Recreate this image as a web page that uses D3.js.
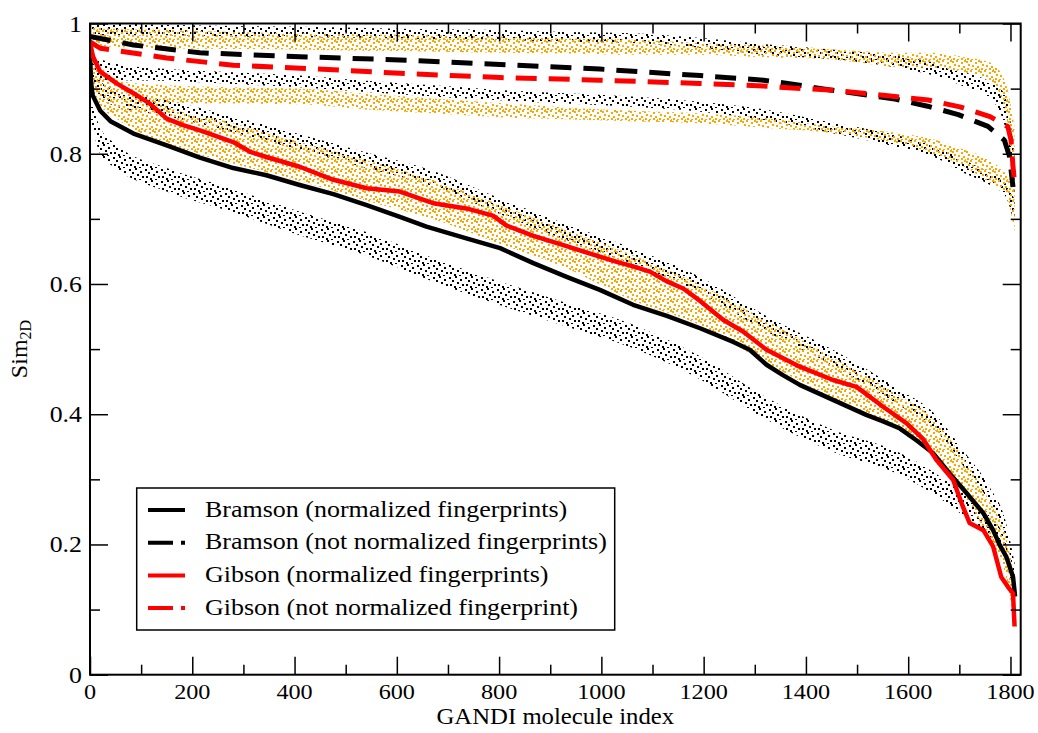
<!DOCTYPE html>
<html>
<head>
<meta charset="utf-8">
<script src="https://cdn.jsdelivr.net/npm/d3@7"></script>
<style>
    body { margin: 0; background: #fff; }
    text { font-family: "Liberation Serif", "Times New Roman", serif; fill: #000; }
</style>
</head>
<body>
<svg id="chart" width="1038" height="733"></svg>
<script>
// mean curves [index, sim]
var bramsonNorm = [[0,0.955],[2,0.91],[5,0.89],[20,0.866],[40,0.85],[85,0.831],[150,0.813],[215,0.794],[280,0.778],[345,0.767],[410,0.752],[476,0.738],[541,0.721],[606,0.703],[658,0.688],[736,0.670],[802,0.655],[867,0.632],[932,0.611],[997,0.591],[1062,0.568],[1128,0.551],[1193,0.532],[1258,0.511],[1290,0.499],[1323,0.476],[1355,0.460],[1388,0.445],[1453,0.422],[1518,0.399],[1551,0.389],[1584,0.378],[1616,0.360],[1649,0.340],[1681,0.309],[1714,0.279],[1747,0.248],[1766,0.222],[1779,0.199],[1792,0.181],[1805,0.150],[1809,0.12]];
var bramsonRaw = [[0,0.98],[85,0.967],[215,0.955],[410,0.949],[606,0.944],[802,0.937],[997,0.930],[1193,0.920],[1317,0.913],[1381,0.906],[1447,0.898],[1512,0.891],[1574,0.884],[1638,0.873],[1698,0.86],[1756,0.842],[1788,0.821],[1798,0.796],[1805,0.749]];
var gibsonNorm = [[0,0.97],[6,0.949],[20,0.926],[52,0.908],[85,0.893],[117,0.877],[150,0.854],[182,0.844],[215,0.836],[280,0.818],[313,0.803],[345,0.795],[410,0.780],[476,0.760],[541,0.747],[606,0.742],[671,0.724],[736,0.716],[788,0.705],[814,0.690],[867,0.674],[932,0.658],[964,0.650],[1030,0.634],[1062,0.627],[1095,0.619],[1128,0.604],[1160,0.593],[1193,0.574],[1238,0.545],[1277,0.527],[1323,0.499],[1388,0.473],[1453,0.4525],[1499,0.442],[1551,0.4115],[1597,0.386],[1629,0.362],[1655,0.33],[1688,0.299],[1707,0.258],[1720,0.233],[1747,0.222],[1766,0.197],[1782,0.150],[1795,0.135],[1805,0.125],[1808,0.074]];
var gibsonRaw = [[0,0.972],[20,0.962],[150,0.947],[280,0.936],[476,0.929],[606,0.9235],[802,0.917],[997,0.913],[1193,0.908],[1316,0.904],[1381,0.9005],[1447,0.898],[1512,0.893],[1574,0.888],[1639,0.8825],[1701,0.872],[1760,0.857],[1795,0.8415],[1801,0.821],[1805,0.78],[1808,0.755]];

// spread of the individual molecules, read as low / high edge of each dot cloud
var dotX = [0, 20, 50, 150, 280, 410, 540, 670, 800, 930, 1060, 1190, 1320, 1450, 1580, 1650, 1710, 1760, 1790, 1808];
var bramsonLowLo = [0.86,0.80,0.778,0.742,0.71,0.675,0.644,0.604,0.568,0.535,0.502,0.455,0.393,0.343,0.308,0.277,0.243,0.212,0.175,0.12];
var bramsonLowHi = [0.89,0.84,0.815,0.778,0.746,0.711,0.68,0.64,0.604,0.571,0.538,0.49,0.427,0.377,0.342,0.311,0.277,0.244,0.205,0.14];
var bramsonUpLo = [0.915,0.888,0.873,0.858,0.833,0.806,0.778,0.75,0.708,0.668,0.631,0.588,0.528,0.476,0.415,0.378,0.318,0.263,0.213,0.148];
var bramsonUpHi = [0.945,0.912,0.897,0.882,0.857,0.83,0.802,0.774,0.732,0.692,0.655,0.612,0.552,0.5,0.439,0.402,0.342,0.287,0.237,0.172];
var gibsonLo = [0.93,0.875,0.855,0.815,0.785,0.758,0.728,0.70,0.662,0.625,0.575,0.538,0.48,0.425,0.375,0.335,0.275,0.205,0.155,0.075];
var gibsonHi = [0.965,0.935,0.915,0.872,0.847,0.818,0.79,0.76,0.722,0.683,0.645,0.6,0.545,0.488,0.43,0.392,0.33,0.265,0.215,0.15];
var bramsonRawUpLo = [0.982,0.982,0.982,0.982,0.98,0.979,0.978,0.976,0.975,0.972,0.97,0.963,0.952,0.945,0.932,0.92,0.903,0.885,0.84,0.73];
var bramsonRawUpHi = [1.0,1.0,1.0,0.998,0.996,0.995,0.993,0.991,0.99,0.987,0.985,0.978,0.968,0.96,0.95,0.94,0.925,0.91,0.89,0.80];
var gibsonRawUpLo = [0.965,0.965,0.964,0.962,0.961,0.96,0.958,0.957,0.955,0.954,0.952,0.952,0.948,0.945,0.933,0.932,0.925,0.913,0.865,0.74];
var gibsonRawUpHi = [0.995,0.993,0.992,0.99,0.987,0.985,0.983,0.982,0.98,0.977,0.975,0.97,0.966,0.96,0.955,0.955,0.948,0.94,0.91,0.84];
var bramsonRawLowLo = [0.915,0.914,0.913,0.912,0.907,0.902,0.895,0.888,0.882,0.877,0.872,0.865,0.851,0.832,0.81,0.795,0.77,0.752,0.735,0.69];
var bramsonRawLowHi = [0.95,0.945,0.938,0.93,0.925,0.92,0.912,0.905,0.898,0.893,0.888,0.88,0.868,0.848,0.828,0.812,0.79,0.77,0.755,0.73];
var gibsonRawLowLo = [0.89,0.885,0.882,0.878,0.877,0.876,0.868,0.862,0.856,0.853,0.85,0.847,0.84,0.832,0.816,0.8,0.78,0.755,0.74,0.68];
var gibsonRawLowHi = [0.93,0.92,0.912,0.905,0.902,0.9,0.892,0.885,0.878,0.871,0.866,0.862,0.855,0.842,0.832,0.822,0.806,0.79,0.77,0.75];

var xMajor = [0, 200, 400, 600, 800, 1000, 1200, 1400, 1600, 1800];
var xMinor = [100, 300, 500, 700, 900, 1100, 1300, 1500, 1700];
var yMajor = [0, 0.2, 0.4, 0.6, 0.8, 1];
var yMinor = [0.1, 0.3, 0.5, 0.7, 0.9];
var legendLabels = [
    'Bramson (normalized fingerprints)',
    'Bramson (not normalized fingerprints)',
    'Gibson (normalized fingerprints)',
    'Gibson (not normalized fingerprint)'
];

var svg = d3.select('#chart'),
    plotLeft = 90, plotRight = 1020.7, plotTop = 23.5, plotBottom = 674.7,
    // the original picture is a little wider than tall, text too
    SX = 1.1;

var x = d3.scaleLinear().domain([0, 1820]).range([plotLeft, plotRight]),
    y = d3.scaleLinear().domain([0, 1]).range([plotBottom, plotTop]);

var defs = svg.append('defs');
defs.append('clipPath').attr('id', 'plotClip')
    .append('rect')
    .attr('x', plotLeft).attr('y', plotTop)
    .attr('width', plotRight - plotLeft).attr('height', plotBottom - plotTop);

// stipple tiles used to paint the dot clouds
function stipple(id, color, w, h, dots, size) {
    var p = defs.append('pattern')
        .attr('id', id)
        .attr('patternUnits', 'userSpaceOnUse')
        .attr('width', w).attr('height', h);
    dots.forEach(function (d) {
        p.append('rect')
            .attr('x', d[0]).attr('y', d[1])
            .attr('width', size).attr('height', size)
            .attr('shape-rendering', 'crispEdges')
            .attr('fill', color);
    });
}
stipple('dotsBlack', '#000', 16, 12,
    [[1,1],[7,0],[12,3],[4,4],[9,6],[14,8],[2,8],[6,10],[11,11]], 1.6);
stipple('dotsOrange', '#ffa500', 14, 10,
    [[0,1],[4,0],[9,2],[12,0],[2,4],[6,5],[11,6],[1,8],[5,9],[9,8],[13,9]], 1.6);

var plot = svg.append('g').attr('clip-path', 'url(#plotClip)');

function band(lo, hi, fill) {
    var rows = dotX.map(function (d, i) { return {x: d, lo: lo[i], hi: hi[i]}; });
    var area = d3.area()
        .curve(d3.curveMonotoneX)
        .x(function (d) { return x(d.x); })
        .y0(function (d) { return y(d.lo); })
        .y1(function (d) { return y(d.hi); });
    plot.append('path')
        .datum(rows)
        .attr('d', area)
        .attr('fill', 'url(#' + fill + ')');
}

band(bramsonRawUpLo, bramsonRawUpHi, 'dotsBlack');
band(bramsonRawLowLo, bramsonRawLowHi, 'dotsBlack');
band(bramsonUpLo, bramsonUpHi, 'dotsBlack');
band(bramsonLowLo, bramsonLowHi, 'dotsBlack');
band(gibsonRawUpLo, gibsonRawUpHi, 'dotsOrange');
band(gibsonRawLowLo, gibsonRawLowHi, 'dotsOrange');
band(gibsonLo, gibsonHi, 'dotsOrange');

var line = d3.line()
    .x(function (d) { return x(d[0]); })
    .y(function (d) { return y(d[1]); });

var series = [
    {data: bramsonRaw, color: '#000', dash: '21 12', width: 5},
    {data: gibsonRaw, color: '#ff0000', dash: '21 12', width: 5},
    {data: bramsonNorm, color: '#000', dash: null, width: 4.5},
    {data: gibsonNorm, color: '#ff0000', dash: null, width: 4.5}
];
series.forEach(function (s) {
    plot.append('path')
        .datum(s.data)
        .attr('d', line)
        .attr('fill', 'none')
        .attr('stroke', s.color)
        .attr('stroke-width', s.width)
        .attr('stroke-dasharray', s.dash)
        .attr('stroke-linejoin', 'round');
});

// inward ticks on all four sides
function ticks(axis, tx, ty, values, len) {
    var g = svg.append('g')
        .attr('transform', 'translate(' + tx + ',' + ty + ')')
        .call(axis.tickValues(values).tickSize(-len).tickFormat(''));
    g.select('.domain').remove();
    g.selectAll('line').attr('stroke', '#000').attr('stroke-width', 1.5);
}
ticks(d3.axisBottom(x), 0, plotBottom, xMajor, 18);
ticks(d3.axisBottom(x), 0, plotBottom, xMinor, 10);
ticks(d3.axisTop(x), 0, plotTop, xMajor, 18);
ticks(d3.axisTop(x), 0, plotTop, xMinor, 10);
ticks(d3.axisLeft(y), plotLeft, 0, yMajor, 18);
ticks(d3.axisLeft(y), plotLeft, 0, yMinor, 10);
ticks(d3.axisRight(y), plotRight, 0, yMajor, 18);
ticks(d3.axisRight(y), plotRight, 0, yMinor, 10);

svg.append('rect')
    .attr('x', plotLeft).attr('y', plotTop)
    .attr('width', plotRight - plotLeft).attr('height', plotBottom - plotTop)
    .attr('fill', 'none').attr('stroke', '#000').attr('stroke-width', 2);

function label(px, py, str, size, anchor, sx) {
    return svg.append('text')
        .attr('transform', 'translate(' + px + ',' + py + ') scale(' + (sx || SX) + ',1)')
        .attr('text-anchor', anchor)
        .style('font-size', size + 'px')
        .text(str);
}

xMajor.forEach(function (v) { label(x(v), 698.5, v, 22, 'middle'); });
yMajor.forEach(function (v) { label(82, y(v) + 8, d3.format('')(v), 23.5, 'end'); });

label((plotLeft + plotRight) / 2, 724, 'GANDI molecule index', 22.5, 'middle');

var yTitle = svg.append('text')
    .attr('transform', 'translate(27,349) rotate(-90)')
    .attr('text-anchor', 'middle')
    .style('font-size', '24px');
yTitle.append('tspan').text('Sim');
yTitle.append('tspan').attr('baseline-shift', '-25%').style('font-size', '16px').text('2D');

// legend box
var legend = svg.append('g');
legend.append('rect')
    .attr('x', 136.7).attr('y', 488)
    .attr('width', 478).attr('height', 142)
    .attr('fill', '#fff').attr('stroke', '#000').attr('stroke-width', 1.5);

legendLabels.forEach(function (t, i) {
    var s = series[[2, 0, 3, 1][i]],
        ly = 510 + i * 32.7;
    legend.append('line')
        .attr('x1', 148).attr('x2', 185)
        .attr('y1', ly).attr('y2', ly)
        .attr('stroke', s.color)
        .attr('stroke-width', 4)
        .attr('stroke-dasharray', s.dash ? '25 8 4 8' : null);
    label(205, ly + 6.5, t, 23, 'start', 1.13);
});
</script>
</body>
</html>
